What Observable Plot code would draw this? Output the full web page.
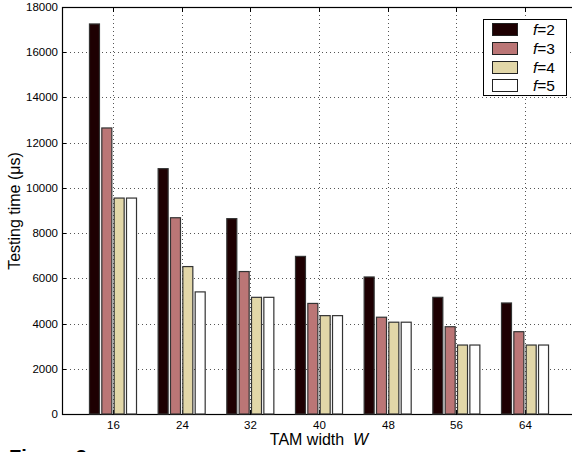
<!DOCTYPE html>
<html>
<head>
<meta charset="utf-8">
<script src="https://cdn.jsdelivr.net/npm/d3@7"></script>
<script src="https://cdn.jsdelivr.net/npm/@observablehq/plot@0.6"></script>
<style>
  html, body { margin: 0; padding: 0; background: #fff; }
  #wrap { position: relative; width: 572px; height: 452px; overflow: hidden; background: #fff;
          font-family: "Liberation Sans", Arial, Helvetica, sans-serif; color: #000; }
  #back, #bars { position: absolute; left: 0; top: 0; width: 580px; height: 452px; }
  #wrap svg { max-width: none !important; width: 580px !important; height: 452px !important; display: block; }
  #ylabel { position: absolute; left: 15px; top: 211px; transform: translate(-50%, -50%) rotate(-90deg);
            font-size: 16px; white-space: nowrap; line-height: 16px; }
  #xlabel { position: absolute; left: 319px; top: 440px; transform: translate(-50%, -50%);
            font-size: 16px; white-space: pre; line-height: 16px; }
  #legend { position: absolute; left: 483px; top: 19px; width: 84px; height: 77px;
            border: 1px solid #000; background: #fff; box-sizing: border-box; }
  .entry { position: absolute; left: 8px; height: 14px; }
  .sw { position: absolute; left: 0; top: 0; width: 26px; height: 13px; border: 1px solid #222; box-sizing: border-box; }
  .lab { position: absolute; left: 41px; top: -2px; font-size: 15.5px; line-height: 17px; white-space: nowrap; }
  #caption { position: absolute; left: 9px; top: 447px; font-size: 20px; line-height: 20px; font-weight: bold; white-space: nowrap; }
</style>
</head>
<body>
<div id="wrap">
  <div id="back"></div>
  <div id="bars"></div>
  <div id="ylabel">Testing time (μs)</div>
  <div id="xlabel">TAM width  <i>W</i></div>
  <div id="legend"></div>
  <div id="caption">Figure 3:</div>
</div>
<script>
// ---- data ----
const widths = [16, 24, 32, 40, 48, 56, 64];           // TAM width W
const fValues = [2, 3, 4, 5];                            // series f
const timeF2 = [17250, 10850, 8640, 6970, 6060, 5160, 4910];
const timeF3 = [12650, 8680, 6300, 4890, 4280, 3860, 3640];
const timeF4 = [9550, 6520, 5160, 4350, 4060, 3050, 3050];
const timeF5 = [9550, 5400, 5160, 4350, 4060, 3050, 3050];
const yTicks = [0, 2000, 4000, 6000, 8000, 10000, 12000, 14000, 16000, 18000];
const xDomain = [10, 70];
const seriesColors = ["#1e0002", "#bb7676", "#e2d7a8", "#ffffff"];

const seriesTimes = [timeF2, timeF3, timeF4, timeF5];
const rows = [];
fValues.forEach((f, i) => widths.forEach((W, j) => rows.push({W, f, t: seriesTimes[i][j]})));

const common = {
  width: 580,
  height: 452,
  marginLeft: 62,
  marginRight: 4,
  marginTop: 7,
  marginBottom: 38,
  style: {fontFamily: '"Liberation Sans", Arial, Helvetica, sans-serif', fontSize: "11.5px", background: "transparent", color: "#000", overflow: "visible", maxWidth: "none"}
};
const gridStyle = {stroke: "#555", strokeOpacity: 1, strokeWidth: 1, strokeDasharray: "1,3", shapeRendering: "crispEdges"};

// background: frame, grid, axes (linear x like the original axis)
const back = Plot.plot({
  ...common,
  x: {type: "linear", domain: xDomain, round: true},
  y: {domain: [0, 18000], round: true},
  marks: [
    Plot.gridY(yTicks.slice(1, -1), gridStyle),
    Plot.gridX(widths, gridStyle),
    Plot.frame({stroke: "#000", strokeWidth: 1.2}),
    Plot.axisY({ticks: yTicks, tickSize: -4, tickPadding: 8.5, label: null, tickFormat: d => String(d)}),
    Plot.axisX({ticks: widths, tickSize: -4, tickPadding: 10, label: null, tickFormat: d => String(d)}),
    Plot.axisX({anchor: "top", ticks: widths, tickSize: -4, tickFormat: () => "", label: null})
  ]
});
document.getElementById("back").appendChild(back);

// bars: grouped with fx facets, aligned to the same frame
const bars = Plot.plot({
  ...common,
  fx: {domain: widths, paddingInner: 0.315, paddingOuter: 0.40, round: false, axis: null, label: null},
  x: {domain: fValues, paddingInner: 0.19, paddingOuter: 0, round: false, axis: null},
  y: {domain: [0, 18000], axis: null},
  color: {type: "ordinal", domain: fValues, range: seriesColors},
  marks: [
    Plot.barY(rows, {fx: "W", x: "f", y: "t", fill: "f", stroke: "#333", strokeWidth: 1.2})
  ]
});
document.getElementById("bars").appendChild(bars);

// legend built from the series arrays
const legend = document.getElementById("legend");
const tops = [3, 22, 41, 59];
fValues.forEach((f, i) => {
  const e = document.createElement("div");
  e.className = "entry";
  e.style.top = tops[i] + "px";
  e.innerHTML = `<div class="sw" style="background:${seriesColors[i]}"></div><div class="lab"><i>f</i>=${f}</div>`;
  legend.appendChild(e);
});
</script>
</body>
</html>
